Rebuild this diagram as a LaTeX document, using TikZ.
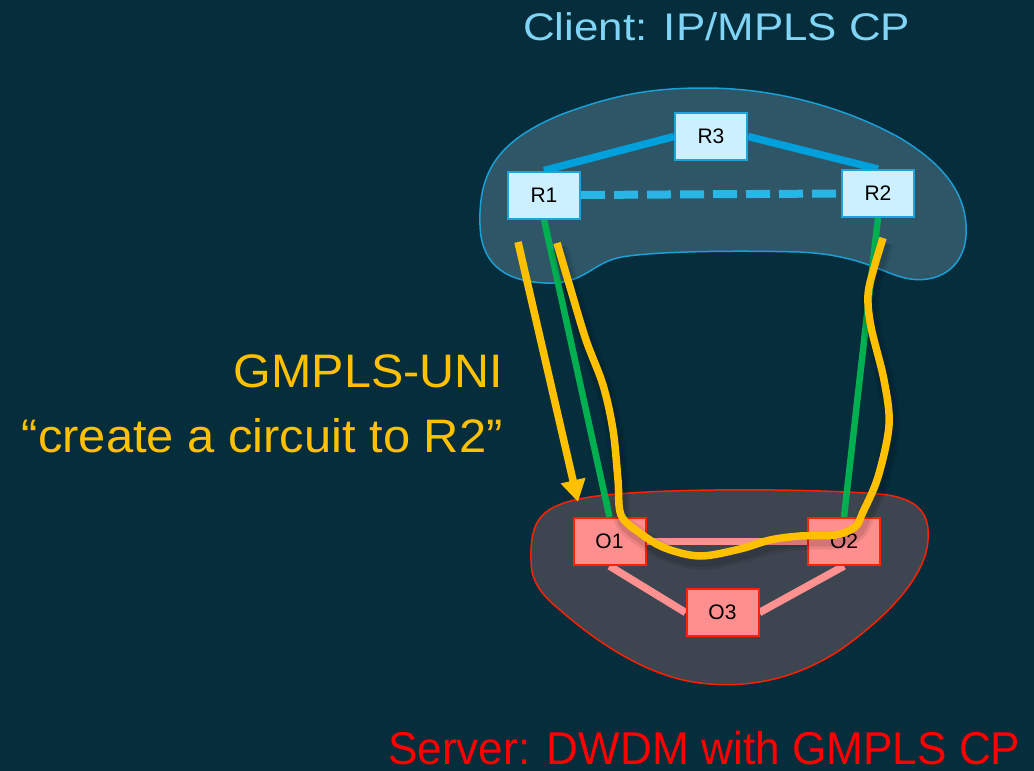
\documentclass[tikz,border=0pt]{standalone}
\usepackage{fontspec}
\setmainfont{Liberation Sans}
\usetikzlibrary{arrows.meta}

\definecolor{bgcol}{HTML}{052D3B}
\definecolor{clientfill}{HTML}{2E5666}
\definecolor{clientedge}{HTML}{1A9FD6}
\definecolor{serverfill}{HTML}{3C4550}
\definecolor{serveredge}{HTML}{FF2000}
\definecolor{rfill}{HTML}{CCF0FF}
\definecolor{redge}{HTML}{1FA3DA}
\definecolor{ofill}{HTML}{FF8F8F}
\definecolor{oedge}{HTML}{FF2200}
\definecolor{iplink}{HTML}{00A0DC}
\definecolor{iplinkdash}{HTML}{29B6E6}
\definecolor{optlink}{HTML}{FF9191}
\definecolor{fiber}{HTML}{00B050}
\definecolor{uni}{HTML}{FFC000}
\definecolor{clienttext}{HTML}{80D4F6}
\definecolor{servertext}{HTML}{FF0000}

\tikzset{
  router/.style={draw=redge, line width=2pt, fill=rfill, minimum width=72pt,
    minimum height=47pt, inner sep=0pt, font=\fontsize{21}{21}\selectfont},
  oxc/.style={draw=oedge, line width=2pt, fill=ofill, minimum width=72pt,
    minimum height=47pt, inner sep=0pt, font=\fontsize{21}{21}\selectfont},
  iplinkstyle/.style={draw=iplink, line width=7.5pt},
  dashlink/.style={draw=iplinkdash, line width=8pt, dash pattern=on 24pt off 9pt},
  optlinkstyle/.style={draw=optlink, line width=7.5pt},
  fiberstyle/.style={draw=fiber, line width=6.5pt},
  unistyle/.style={draw=uni, line width=7.5pt},
  label/.style={inner sep=0pt},
}

\begin{document}
\begin{tikzpicture}[x=1pt,y=-1pt]
  \useasboundingbox (0,0) rectangle (1034,771);
  \fill[bgcol] (0,0) rectangle (1034,771);

  % client domain cloud
  \filldraw[fill=clientfill, draw=clientedge, line width=1.5pt]
    (480,225) .. controls (478,170) and (500,140) .. (560,115)
    .. controls (620,92) and (660,88) .. (705,88)
    .. controls (780,88) and (850,110) .. (900,138)
    .. controls (950,168) and (968,200) .. (966,235)
    .. controls (964,270) and (935,285) .. (905,278)
    .. controls (880,272) and (860,255) .. (800,252)
    .. controls (720,250) and (650,252) .. (622,257)
    .. controls (592,262) and (585,285) .. (545,283)
    .. controls (500,281) and (481,260) .. (480,225) -- cycle;

  % server domain cloud
  \filldraw[fill=serverfill, draw=serveredge, line width=1.5pt]
    (531,560) .. controls (530,520) and (540,505) .. (590,497)
    .. controls (650,488) and (800,488) .. (880,494)
    .. controls (920,498) and (930,515) .. (928,540)
    .. controls (926,575) and (890,615) .. (840,650)
    .. controls (790,683) and (740,688) .. (700,683)
    .. controls (650,677) and (600,645) .. (560,610)
    .. controls (535,590) and (531,575) .. (531,560) -- cycle;

  % node positions
  \coordinate (pR1) at (544,195);
  \coordinate (pR2) at (878,193.5);
  \coordinate (pR3) at (711,136.5);
  \coordinate (pO1) at (609.5,541.5);
  \coordinate (pO2) at (844,541.5);
  \coordinate (pO3) at (722.5,612.5);

  % invisible placeholders so links can be drawn before the boxes
  \node[router, draw=none, fill=none] (R1) at (pR1) {};
  \node[router, draw=none, fill=none] (R2) at (pR2) {};
  \node[router, draw=none, fill=none] (R3) at (pR3) {};
  \node[oxc, draw=none, fill=none] (O1) at (pO1) {};
  \node[oxc, draw=none, fill=none] (O2) at (pO2) {};
  \node[oxc, draw=none, fill=none] (O3) at (pO3) {};

  % IP links
  \draw[iplinkstyle] (R1.north) -- (R3.west);
  \draw[iplinkstyle] (R3.east) -- (R2.north);
  \draw[dashlink] (R1.east) -- (R2.west);

  % optical links
  \draw[optlinkstyle] (O1.east) -- (O2.west);
  \draw[optlinkstyle] (O1.south) -- (O3.west);
  \draw[optlinkstyle] (O3.east) -- (O2.south);

  % router-to-OXC fibers
  \draw[fiberstyle] (R1.south) -- (O1.north);
  \draw[fiberstyle] (R2.south) -- (O2.north);

  % boxes
  \node[router] at (pR1) {R1};
  \node[router] at (pR2) {R2};
  \node[router] at (pR3) {R3};
  \node[oxc] at (pO1) {O1};
  \node[oxc] at (pO2) {O2};
  \node[oxc] at (pO3) {O3};

  % UNI signalling request
  \coordinate (reqstart) at (518,242);
  \coordinate (reqend) at (578,502);
  \draw[unistyle, -{Triangle[width=24pt,length=22pt]}] (reqstart) -- (reqend);

  % resulting circuit R1 -> O1 -> O2 -> R2, with a soft drop shadow
  \def\circuitpath{plot[smooth, tension=0.55] coordinates {
    (557,243) (570,287) (586,340) (603,385) (613,430) (618,480) (621,515)
    (640,533) (665,548) (700,556) (740,549) (770,540) (800,536) (835,535)
    (855,527) (863,512) (878,477) (889,425) (884,380) (871,327) (868,295)
    (874,268) (883,238)}}
  \begin{scope}[shift={(2,5)}]
    \draw[black, opacity=0.08, line width=18pt] \circuitpath;
    \draw[black, opacity=0.10, line width=12pt] \circuitpath;
  \end{scope}
  \draw[unistyle, line cap=butt] \circuitpath;

  % captions
  \node[label, anchor=base west, text=clienttext] (clientcap) at (523,40)
    {\scalebox{1.14}[1]{\fontsize{38.5}{38.5}\selectfont Client: IP/MPLS CP}};
  \node[label, anchor=base east, text=uni] (unicap) at (503,387)
    {\scalebox{1.03}[1]{\fontsize{47}{47}\selectfont GMPLS-UNI}};
  \node[label, anchor=base east, text=uni] (unimsg) at (503,452)
    {\scalebox{1.04}[1]{\fontsize{47}{47}\selectfont “create a circuit to R2”}};
  \node[label, anchor=base west, text=servertext] (servercap) at (388,764)
    {\scalebox{0.96}[1]{\fontsize{46}{46}\selectfont Server: DWDM with GMPLS CP}};
\end{tikzpicture}
\end{document}
